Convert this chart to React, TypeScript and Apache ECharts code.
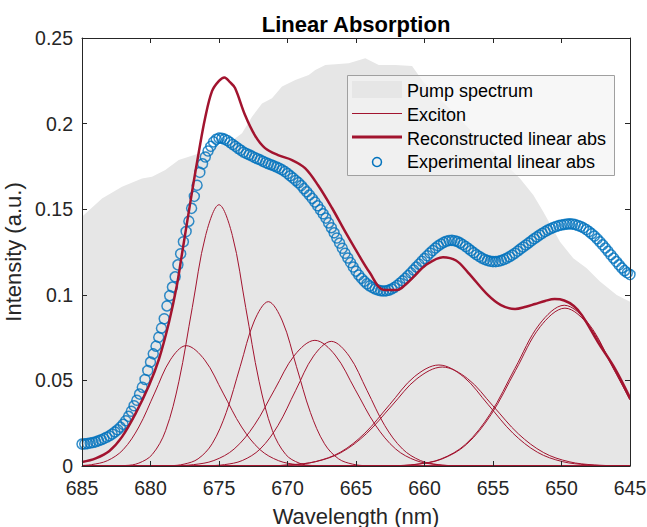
import React, { useEffect, useRef } from "react";
import * as echarts from "echarts";

const titleText = "Linear Absorption";
const xAxisName = "Wavelength (nm)";
const yAxisName = "Intensity (a.u.)";
const legendLabels = ["Pump spectrum", "Exciton", "Reconstructed linear abs", "Experimental linear abs"];

// Pump spectrum outline [wavelength nm, intensity]
const pumpSpectrum: [number, number][] = [
  [685.0, 0.1456], [683.54, 0.1563], [682.08, 0.1631], [680.62, 0.168], [679.89, 0.169],
  [678.92, 0.1729], [677.94, 0.1787], [676.48, 0.1826], [674.05, 0.19], [673.32, 0.1943],
  [672.59, 0.204], [671.86, 0.2118], [671.13, 0.2148], [670.4, 0.2216], [669.43, 0.2255],
  [668.45, 0.2284], [667.97, 0.2313], [667.24, 0.2342], [665.53, 0.2352], [664.32, 0.2381],
  [663.34, 0.2342], [662.13, 0.2342], [660.91, 0.2336], [660.09, 0.2245], [656.61, 0.196],
  [653.03, 0.168], [652.06, 0.1583], [651.33, 0.1485], [650.11, 0.131], [649.14, 0.1213],
  [648.16, 0.1155], [647.19, 0.1077], [645.97, 0.0999], [645.0, 0.096],
];

// Individual exciton bands [wavelength nm, intensity]
const exciton1: [number, number][] = [
  [685, 0.0003], [684.3, 0.0008], [683.15, 0.0031], [682.0, 0.0095], [680.85, 0.0228], [679.7, 0.0426],
  [678.55, 0.062], [677.4, 0.0703], [676.05, 0.062], [674.7, 0.0426], [673.35, 0.0228], [672.0, 0.0095],
  [670.65, 0.0031], [669.3, 0.0008], [667.95, 0.0002], [666.6, 0], [645, 0],
];
const exciton2: [number, number][] = [
  [685, 0], [681.825, 0.0003], [680.85, 0.0017], [679.875, 0.0067], [678.9, 0.0206], [677.925, 0.0495],
  [676.95, 0.0926], [675.975, 0.1347], [675.0, 0.1526], [674.025, 0.1347], [673.05, 0.0926],
  [672.075, 0.0495], [671.1, 0.0206], [670.125, 0.0067], [669.15, 0.0017], [668.175, 0.0003], [645, 0],
];
const exciton3: [number, number][] = [
  [685, 0], [678.575, 0.0002], [677.55, 0.0011], [676.525, 0.0042], [675.5, 0.013], [674.475, 0.0312],
  [673.45, 0.0582], [672.425, 0.0847], [671.4, 0.096], [670.375, 0.0847], [669.35, 0.0582],
  [668.325, 0.0312], [667.3, 0.013], [666.275, 0.0042], [665.25, 0.0011], [664.225, 0.0002], [645, 0],
];
const exciton4: [number, number][] = [
  [685, 0], [678.325, 0.0002], [676.85, 0.0008], [675.375, 0.0032], [673.9, 0.0099], [672.425, 0.0238],
  [670.95, 0.0445], [669.475, 0.0648], [668.0, 0.0734], [666.525, 0.0648], [665.05, 0.0445],
  [663.575, 0.0238], [662.1, 0.0099], [660.625, 0.0032], [659.15, 0.0008], [657.675, 0.0002], [645, 0],
];
const exciton5: [number, number][] = [
  [685, 0], [675.9, 0.0002], [674.6, 0.0008], [673.3, 0.0032], [672.0, 0.0099], [670.7, 0.0236],
  [669.4, 0.0442], [668.1, 0.0642], [666.8, 0.0728], [665.5, 0.0642], [664.2, 0.0442], [662.9, 0.0236],
  [661.6, 0.0099], [660.3, 0.0032], [659.0, 0.0008], [657.7, 0.0002], [645, 0],
];
const exciton6: [number, number][] = [
  [685, 0], [671.55, 0.0001], [669.75, 0.0007], [667.95, 0.0026], [666.15, 0.008], [664.35, 0.0192],
  [662.55, 0.0358], [660.75, 0.0521], [658.95, 0.059], [657.15, 0.0521], [655.35, 0.0358],
  [653.55, 0.0192], [651.75, 0.008], [649.95, 0.0026], [648.15, 0.0007], [646.35, 0.0001], [645, 0],
];
const exciton7: [number, number][] = [
  [685, 0], [671.65, 0.0001], [669.8, 0.0006], [667.95, 0.0025], [666.1, 0.0078], [664.25, 0.0188],
  [662.4, 0.0351], [660.55, 0.051], [658.7, 0.0578], [656.85, 0.051], [655.0, 0.0351], [653.15, 0.0188],
  [651.3, 0.0078], [649.45, 0.0025], [647.6, 0.0006], [645.75, 0.0001], [645, 0],
];
const exciton8: [number, number][] = [
  [685, 0], [662.4, 0.0002], [660.6, 0.001], [658.8, 0.0041], [657.0, 0.0127], [655.2, 0.0305],
  [653.4, 0.057], [651.6, 0.0829], [649.8, 0.0939], [648.0, 0.0829], [646.2, 0.057], [645, 0.0386],
];
const exciton9: [number, number][] = [
  [685, 0], [662.35, 0.0002], [660.55, 0.001], [658.75, 0.004], [656.95, 0.0125], [655.15, 0.0299],
  [653.35, 0.0559], [651.55, 0.0814], [649.75, 0.0922], [647.95, 0.0814], [646.15, 0.0559], [645, 0.0386],
];
const excitons = [exciton1, exciton2, exciton3, exciton4, exciton5, exciton6, exciton7, exciton8, exciton9];

// Reconstructed linear absorption [wavelength nm, intensity]
const reconAbs: [number, number][] = [
  [685.0, 0.0023], [684.0, 0.0045], [683.0, 0.0088], [682.08, 0.017], [681.13, 0.03], [680.11, 0.047],
  [679.38, 0.0625], [678.65, 0.084], [678.07, 0.1057], [677.7, 0.124], [676.97, 0.16], [676.46, 0.184],
  [676.02, 0.203], [675.51, 0.219], [675.0, 0.225], [674.6, 0.227], [674.2, 0.2242], [673.83, 0.2208],
  [673.1, 0.205], [672.37, 0.193], [671.64, 0.1857], [670.69, 0.1816], [669.67, 0.1787], [668.72, 0.174],
  [667.77, 0.164], [666.75, 0.1507], [665.8, 0.137], [665.07, 0.127], [664.0, 0.113], [663.0, 0.103],
  [662.0, 0.1028], [661.42, 0.1057], [660.7, 0.1112], [659.96, 0.117], [658.65, 0.122], [657.7, 0.12],
  [656.82, 0.113], [655.36, 0.0998], [654.42, 0.094], [653.39, 0.0917], [652.6, 0.093], [651.93, 0.0946],
  [651.2, 0.0964], [650.5, 0.0975], [649.8, 0.0967], [649.1, 0.0935], [648.5, 0.088], [647.34, 0.0724],
  [646.09, 0.0567], [645.0, 0.0398],
];

// Experimental linear absorption, sampled every 0.2 nm from 685 nm down to 645 nm
const expStartNm = 685;
const expStepNm = 0.2;
const expAbs = [
  0.0128, 0.0129, 0.0131, 0.0134, 0.0137, 0.0141, 0.0147, 0.0153, 0.016, 0.0168,
  0.0176, 0.0187, 0.0199, 0.0212, 0.0227, 0.0244, 0.0264, 0.029, 0.032, 0.0352,
  0.0384, 0.042, 0.046, 0.0505, 0.0558, 0.0607, 0.0655, 0.07, 0.0752, 0.0805,
  0.086, 0.0935, 0.0995, 0.1045, 0.1105, 0.1175, 0.124, 0.131, 0.137, 0.143,
  0.1505, 0.1575, 0.164, 0.1715, 0.1765, 0.1805, 0.184, 0.1867, 0.1893, 0.1908,
  0.1915, 0.1914, 0.1909, 0.1901, 0.189, 0.1878, 0.1867, 0.1855, 0.1844, 0.1833,
  0.1825, 0.1818, 0.181, 0.1802, 0.1795, 0.1788, 0.178, 0.1772, 0.1766, 0.176,
  0.1753, 0.1746, 0.1739, 0.173, 0.172, 0.1708, 0.1695, 0.1682, 0.1668, 0.1655,
  0.1638, 0.162, 0.1602, 0.1583, 0.1563, 0.1542, 0.152, 0.1497, 0.1473, 0.1448,
  0.142, 0.1392, 0.1362, 0.1332, 0.1302, 0.1272, 0.1243, 0.1215, 0.1188, 0.1162,
  0.1138, 0.1116, 0.1096, 0.1079, 0.1064, 0.1052, 0.1042, 0.1034, 0.1028, 0.1024,
  0.1022, 0.1023, 0.1027, 0.1034, 0.1043, 0.1054, 0.1067, 0.1081, 0.1096, 0.1112,
  0.1128, 0.1145, 0.1162, 0.1179, 0.1196, 0.1212, 0.1228, 0.1244, 0.1259, 0.1273,
  0.1286, 0.1297, 0.1306, 0.1313, 0.1317, 0.1318, 0.1316, 0.1311, 0.1303, 0.1293,
  0.1282, 0.127, 0.1258, 0.1246, 0.1234, 0.1224, 0.1214, 0.1206, 0.12, 0.1196,
  0.1194, 0.1194, 0.1196, 0.12, 0.1206, 0.1213, 0.1222, 0.1232, 0.1243, 0.1255,
  0.1267, 0.1279, 0.1291, 0.1303, 0.1315, 0.1327, 0.1338, 0.1349, 0.1359, 0.1369,
  0.1378, 0.1386, 0.1393, 0.1399, 0.1404, 0.1408, 0.1411, 0.1413, 0.1414, 0.1413,
  0.141, 0.1405, 0.1399, 0.1391, 0.1381, 0.137, 0.1357, 0.1343, 0.1327, 0.131,
  0.1292, 0.1273, 0.1254, 0.1234, 0.1214, 0.1194, 0.1175, 0.1157, 0.1141, 0.1128,
  0.1118,
];

const FONT = "'Liberation Sans', Arial, Helvetica, sans-serif";
const AXIS_COLOR = "#262626";
const RED = "#A2142F";
const BLUE = "#0072BD";

export default function App() {
  const ref = useRef<HTMLDivElement>(null);

  useEffect(() => {
    if (!ref.current) return;
    const chart = echarts.init(ref.current, null, { renderer: "svg" });

    const expData = expAbs.map((v, i) => [
      Math.round((expStartNm - expStepNm * i) * 100) / 100,
      v,
    ]);

    const axisCommon = {
      axisLine: { show: true, onZero: false, lineStyle: { color: AXIS_COLOR, width: 1 } },
      axisTick: { show: true, inside: true, length: 5, lineStyle: { color: AXIS_COLOR, width: 1 } },
      splitLine: { show: false },
      z: 10,
    };

    const xBase = { type: "value", min: 645, max: 685, interval: 5, inverse: true };
    const yBase = { type: "value", min: 0, max: 0.25, interval: 0.05 };

    const series: any[] = [
      {
        name: legendLabels[0],
        type: "line",
        data: pumpSpectrum,
        symbol: "none",
        silent: true,
        lineStyle: { width: 0, opacity: 0 },
        areaStyle: { color: "#e6e6e6", opacity: 1 },
        z: 1,
      },
      ...excitons.map((ex) => ({
        name: legendLabels[1],
        type: "line",
        data: ex,
        symbol: "none",
        smooth: 0.35,
        silent: true,
        lineStyle: { color: RED, width: 1 },
        z: 2,
      })),
      {
        name: legendLabels[3],
        type: "scatter",
        data: expData,
        symbol: "circle",
        symbolSize: 10,
        silent: true,
        itemStyle: { color: "rgba(0,0,0,0)", borderColor: BLUE, borderWidth: 1.5 },
        z: 3,
      },
      {
        name: legendLabels[2],
        type: "line",
        data: reconAbs,
        symbol: "none",
        smooth: 0.35,
        silent: true,
        lineStyle: { color: RED, width: 2.5 },
        z: 4,
      },
    ];

    const legendX = 347.5;
    const legendY = 75.5;
    const rowY = [90.5, 114.6, 138.6, 162.3];
    const textStyleBase = { fontSize: 18, fontFamily: FONT, fill: "#000", verticalAlign: "middle", align: "left" };

    const option: any = {
      animation: false,
      backgroundColor: "#ffffff",
      grid: {
        left: 82,
        top: 38,
        width: 548,
        height: 428,
        containLabel: false,
        outerBoundsMode: "none",
      },
      xAxis: [
        {
          ...xBase,
          ...axisCommon,
          position: "bottom",
          name: xAxisName,
          nameLocation: "middle",
          nameGap: 39,
          nameTextStyle: { fontSize: 22, color: AXIS_COLOR, fontFamily: FONT },
          axisLabel: { fontSize: 19.5, color: AXIS_COLOR, fontFamily: FONT, margin: 12 },
        },
        {
          ...xBase,
          ...axisCommon,
          position: "top",
          axisLabel: { show: false },
        },
      ],
      yAxis: [
        {
          ...yBase,
          ...axisCommon,
          position: "left",
          name: yAxisName,
          nameLocation: "middle",
          nameGap: 53,
          nameTextStyle: { fontSize: 22, color: AXIS_COLOR, fontFamily: FONT },
          axisLabel: { fontSize: 19.5, color: AXIS_COLOR, fontFamily: FONT, margin: 9 },
        },
        {
          ...yBase,
          ...axisCommon,
          position: "right",
          axisLabel: { show: false },
        },
      ],
      series,
      graphic: [
        {
          type: "text",
          x: 356,
          y: 24,
          style: {
            text: titleText,
            fontSize: 22,
            fontWeight: "bold",
            fontFamily: FONT,
            fill: "#000",
            align: "center",
            verticalAlign: "middle",
          },
          z: 100,
        },
        {
          type: "rect",
          shape: { x: legendX, y: legendY, width: 267, height: 100 },
          style: { fill: "rgba(244,244,244,0.72)", stroke: "#a0a0a0", lineWidth: 1 },
          z: 100,
        },
        {
          type: "rect",
          shape: { x: 352, y: 81, width: 50, height: 17 },
          style: { fill: "#e6e6e6" },
          z: 101,
        },
        {
          type: "line",
          shape: { x1: 352, y1: 113.5, x2: 402, y2: 113.5 },
          style: { stroke: RED, lineWidth: 1 },
          z: 101,
        },
        {
          type: "line",
          shape: { x1: 352, y1: 137, x2: 402, y2: 137 },
          style: { stroke: RED, lineWidth: 3 },
          z: 101,
        },
        {
          type: "circle",
          shape: { cx: 377, cy: 162, r: 4.5 },
          style: { fill: "none", stroke: BLUE, lineWidth: 1.5 },
          z: 101,
        },
        ...legendLabels.map((label, i) => ({
          type: "text",
          x: 407,
          y: rowY[i],
          style: { ...textStyleBase, text: label },
          z: 102,
        })),
      ],
    };

    chart.setOption(option);
    return () => chart.dispose();
  }, []);

  return (
    <div
      ref={ref}
      style={{ position: "fixed", left: 0, top: 0, width: 647, height: 527, background: "#fff" }}
    />
  );
}
